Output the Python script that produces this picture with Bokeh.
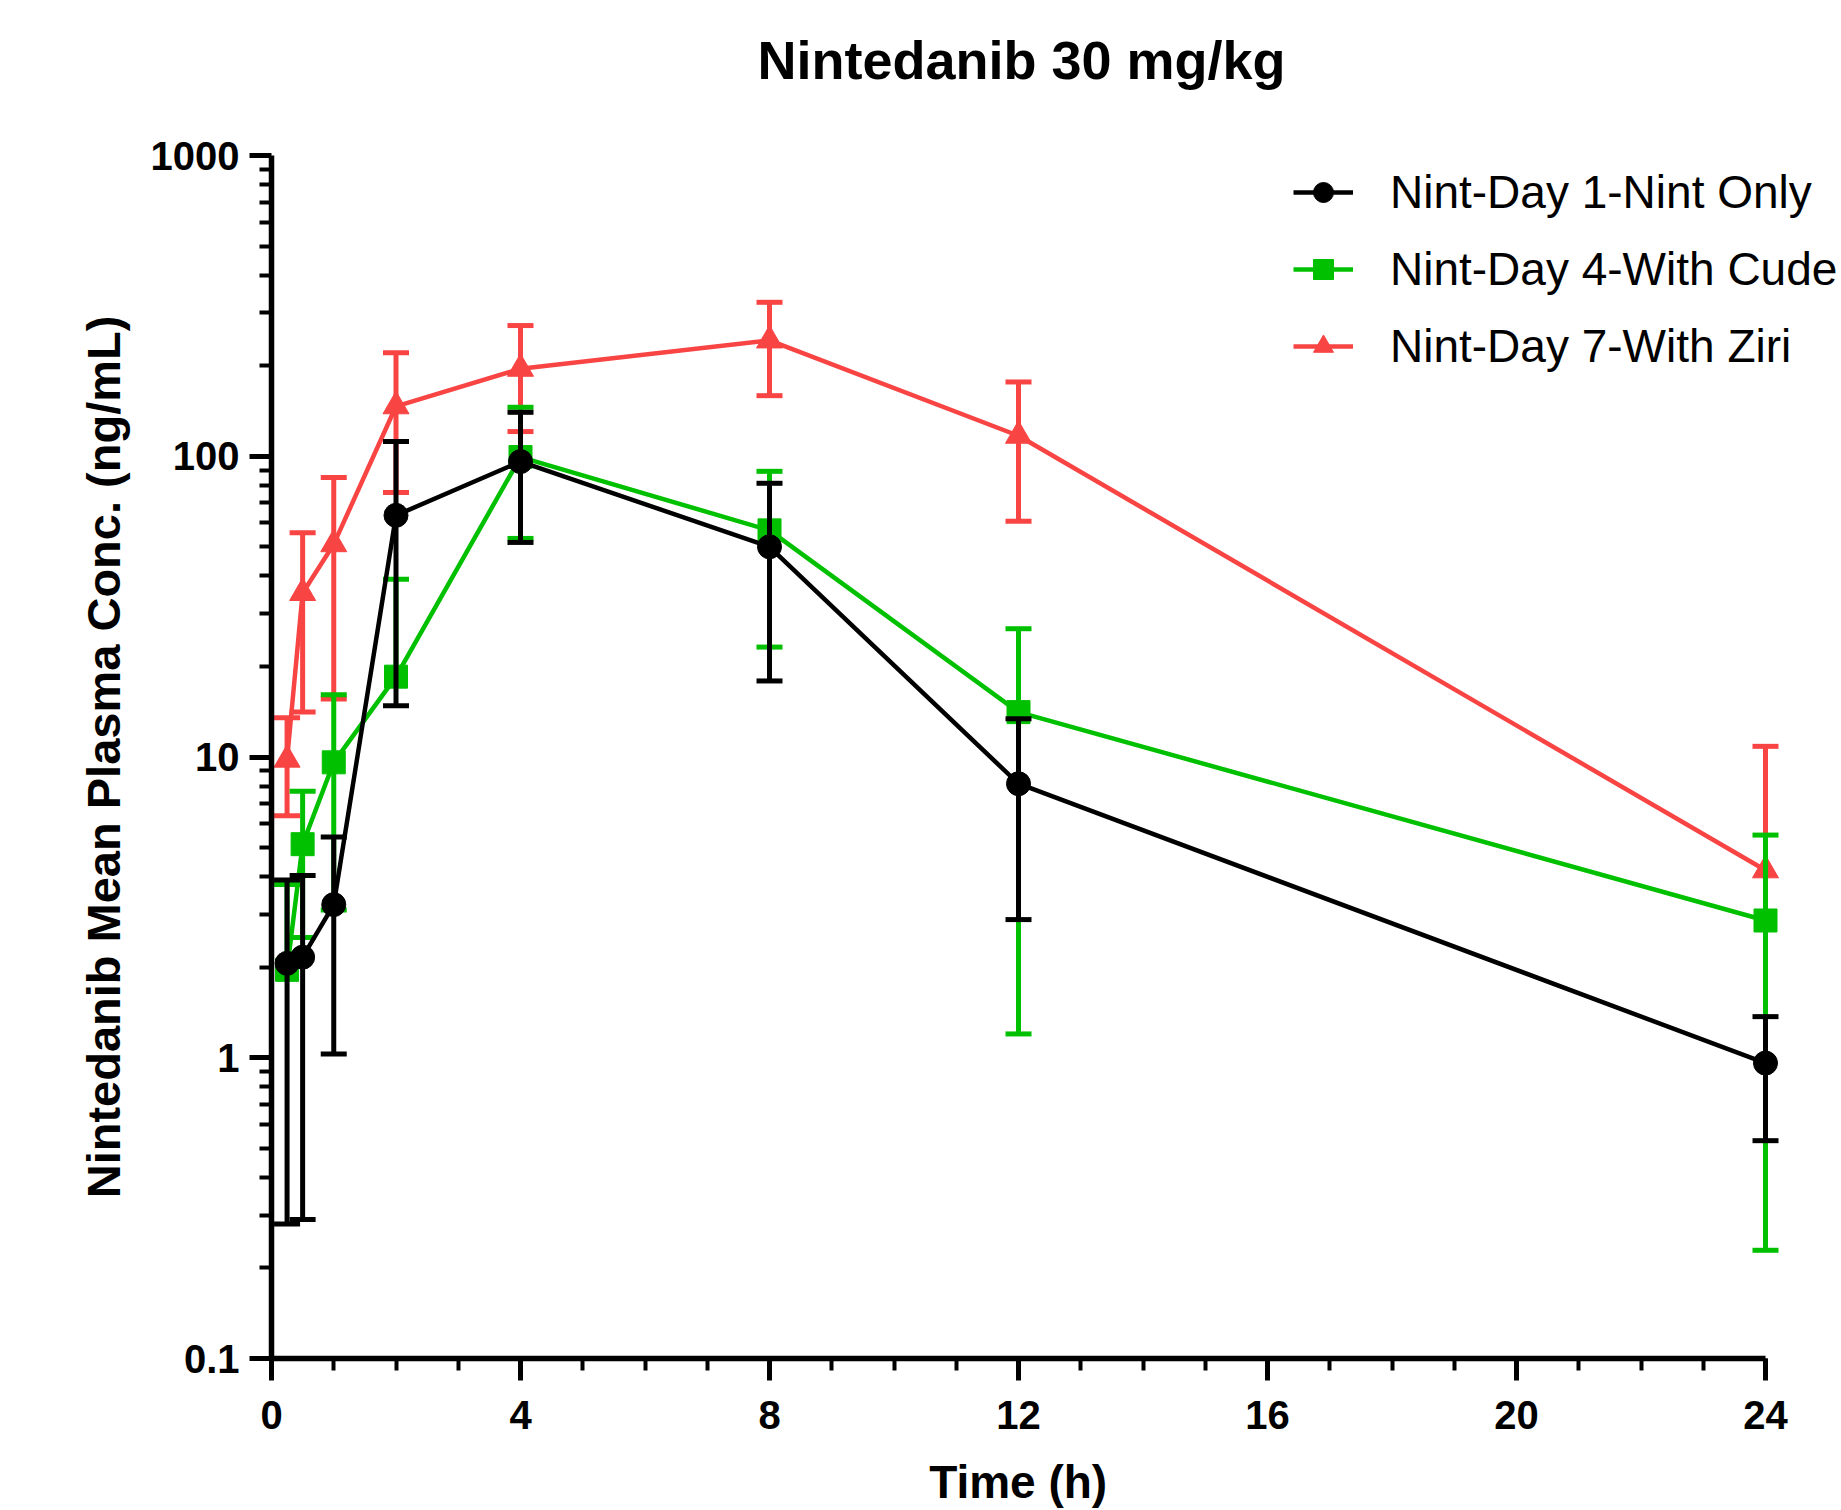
import math
from bokeh.plotting import figure
from bokeh.models import (Range1d, FixedTicker, SingleIntervalTicker, CustomJSTickFormatter,
                          Legend, LegendItem)
from bokeh.embed import file_html
from bokeh.resources import INLINE

NAN = float("nan")

# ---- data ----
time_h = [0.25, 0.5, 1, 2, 4, 8, 12, 24]

nint_only_mean = [2.06, 2.16, 3.23, 63.6, 96.0, 50.0, 8.15, 0.96]
nint_only_upper = [3.9, 4.04, 5.42, 112.0, 140.0, 81.3, 13.4, 1.37]
nint_only_lower = [0.28, 0.29, 1.03, 14.8, 51.7, 17.9, 2.88, 0.53]

with_cude_mean = [1.96, 5.13, 9.6, 18.5, 99.4, 56.7, 14.1, 2.86]
with_cude_upper = [3.77, 7.7, 16.1, 39.0, 145.5, 89.1, 26.7, 5.5]
with_cude_lower = [NAN, 2.51, 3.1, NAN, 53.3, 23.2, 1.2, 0.229]

with_ziri_mean = [9.8, 35.1, 51.0, 146.6, 195.4, 242.7, 117.0, 4.2]
with_ziri_upper = [13.5, 55.7, 85.0, 221.0, 272.0, 325.0, 176.6, 10.85]
with_ziri_lower = [6.38, 14.1, 15.6, 75.7, 120.8, 159.0, 60.8, NAN]

series_labels = ["Nint-Day 1-Nint Only", "Nint-Day 4-With Cude", "Nint-Day 7-With Ziri"]
y_major_ticks = [0.1, 1, 10, 100, 1000]
x_tick_interval = 4
x_max = 24

FONT = "Liberation Sans"

W, H = 1841, 1510
LEFT, TOP, BOTTOM = 271, 155, 152
x_px_per_h = (1765 - LEFT) / x_max
x_end = (W - LEFT) / x_px_per_h

p = figure(width=W, height=H, output_backend="svg", toolbar_location=None,
           y_axis_type="log",
           x_range=Range1d(0, x_end), y_range=Range1d(0.1, 1000),
           min_border_left=LEFT, min_border_right=0, min_border_top=TOP, min_border_bottom=BOTTOM)

p.xgrid.visible = False
p.ygrid.visible = False
p.outline_line_color = None
p.background_fill_color = "white"
p.border_fill_color = "white"

# title (a blank second line lifts the title within its panel)
p.title.text = "Nintedanib 30 mg/kg\n "
p.title.align = "left"
p.title.offset = 486
p.title.text_font = FONT
p.title.text_font_size = "54px"
p.title.text_font_style = "bold"
p.title.text_color = "black"
p.title.text_line_height = 1.1
p.title.standoff = 0

# axes
p.xaxis.ticker = SingleIntervalTicker(interval=x_tick_interval, num_minor_ticks=4)
p.xaxis.bounds = (0, x_max)
minor = [m * 10 ** e for e in range(-1, 3) for m in range(2, 10)]
p.yaxis.ticker = FixedTicker(ticks=y_major_ticks, minor_ticks=minor)
p.yaxis.formatter = CustomJSTickFormatter(code="return (tick < 1) ? tick.toFixed(1) : tick.toFixed(0);")

for ax in (p.xaxis[0], p.yaxis[0]):
    ax.axis_line_width = 5.5
    ax.axis_line_color = "black"
    ax.major_tick_line_width = 5
    ax.minor_tick_line_width = 4
    ax.major_tick_line_color = "black"
    ax.minor_tick_line_color = "black"
    ax.major_tick_in = 0
    ax.major_tick_out = 22
    ax.minor_tick_in = 0
    ax.minor_tick_out = 12
    ax.major_label_text_font = FONT
    ax.major_label_text_font_style = "bold"
    ax.major_label_text_font_size = "40px"
    ax.major_label_text_color = "black"
    ax.axis_label_text_font = FONT
    ax.axis_label_text_font_style = "bold"
    ax.axis_label_text_color = "black"

# trailing no-break spaces centre the visible label over the 0-24 span
p.xaxis.axis_label = "Time (h)" + "\u00a0" * 6
p.yaxis.axis_label = "Nintedanib Mean Plasma Conc. (ng/mL)"
p.xaxis.axis_label_text_font_size = "46px"
p.yaxis.axis_label_text_font_size = "47px"
p.xaxis.major_label_standoff = 20
p.xaxis.axis_label_standoff = 24
p.yaxis.major_label_standoff = 10
p.yaxis.axis_label_standoff = 18

series = [
    (series_labels[0], nint_only_mean, nint_only_upper, nint_only_lower, "#000000", "circle", 24),
    (series_labels[1], with_cude_mean, with_cude_upper, with_cude_lower, "#00C000", "square", 23),
    (series_labels[2], with_ziri_mean, with_ziri_upper, with_ziri_lower, "#F94444", "triangle", 26),
]

legend_items = {}
# draw red first, then green, black on top
for name, mean, upper, lower, color, marker, msize in reversed(series):
    bar_bottom = [lo if not math.isnan(lo) else m for lo, m in zip(lower, mean)]
    p.segment(x0=time_h, y0=bar_bottom, x1=time_h, y1=upper, line_color=color, line_width=5)
    p.scatter(x=time_h, y=upper, marker="dash", size=26, line_color=color, line_width=5)
    lx = [t for t, lo in zip(time_h, lower) if not math.isnan(lo)]
    ly = [lo for lo in lower if not math.isnan(lo)]
    p.scatter(x=lx, y=ly, marker="dash", size=26, line_color=color, line_width=5)
    lr = p.line(x=time_h, y=mean, line_color=color, line_width=4.5)
    sr = p.scatter(x=time_h, y=mean, marker=marker, size=msize, fill_color=color, line_color=color, line_width=1)
    legend_items[name] = [lr, sr]

legend = Legend(items=[LegendItem(label=n, renderers=legend_items[n]) for n in series_labels],
                location=(1022, 985), orientation="vertical", padding=0, margin=0, spacing=23,
                glyph_width=60, glyph_height=50, label_height=50, label_standoff=37,
                label_text_font=FONT, label_text_font_size="46px", label_text_color="black",
                border_line_color=None, background_fill_alpha=0)
p.add_layout(legend)

open("out.html", "w").write(file_html(p, INLINE))
